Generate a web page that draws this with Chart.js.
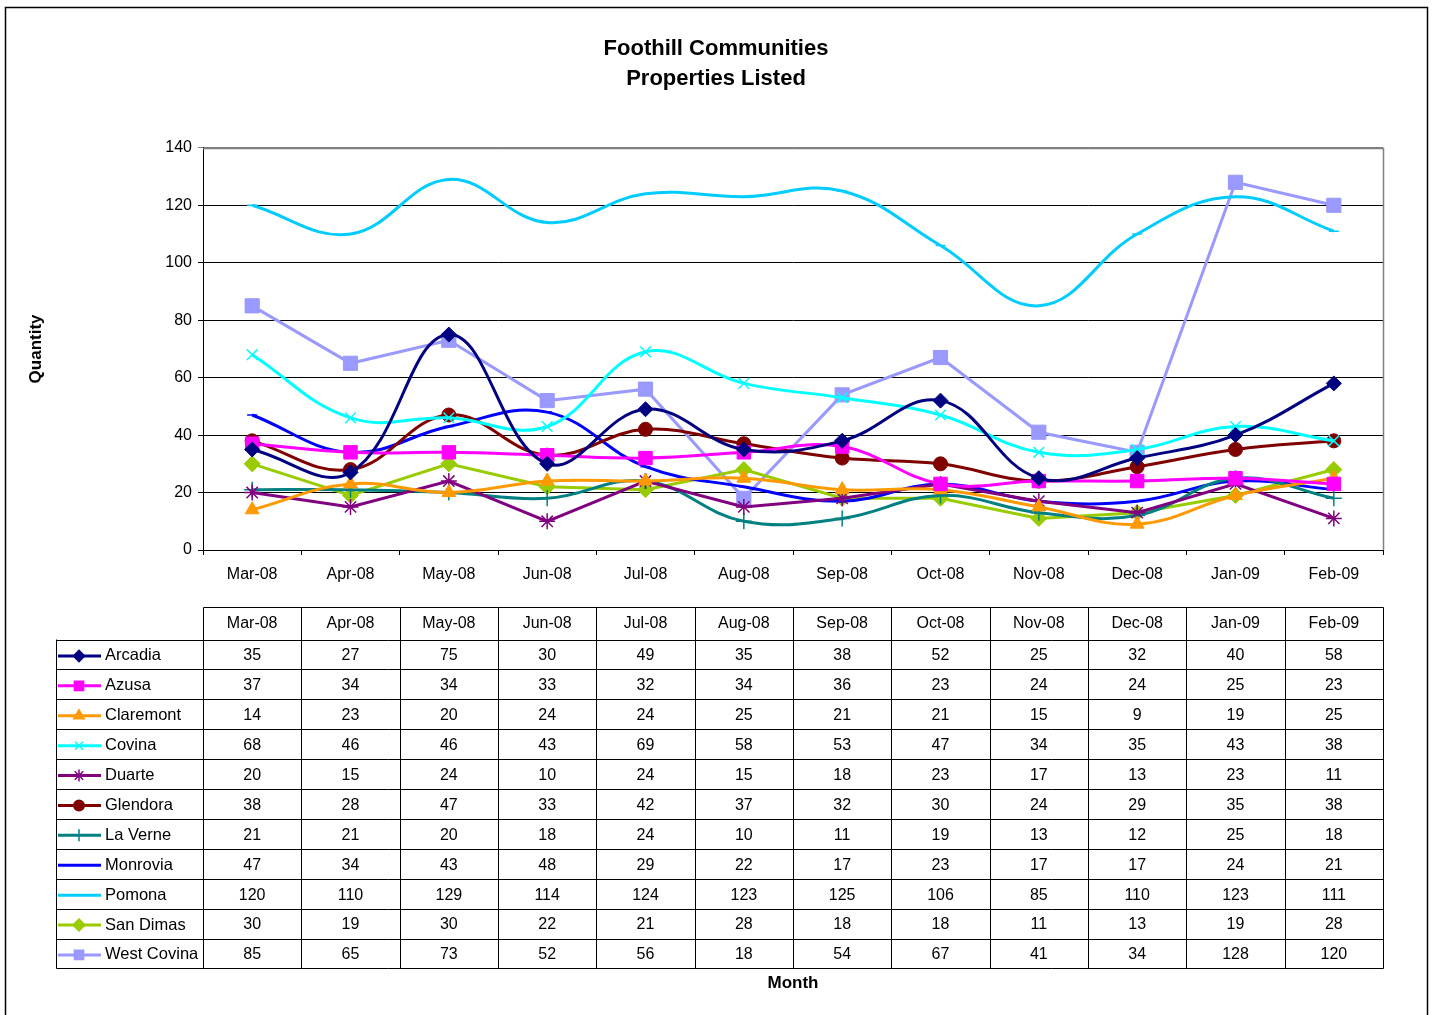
<!DOCTYPE html>
<html>
<head>
<meta charset="utf-8">
<title>Foothill Communities - Properties Listed</title>
<script src="https://cdn.jsdelivr.net/npm/chart.js@4.4.1/dist/chart.umd.min.js"></script>
<style>
  html, body { margin: 0; padding: 0; background: #fff; }
  #wrap { width: 1432px; height: 1015px; position: relative; }
</style>
</head>
<body>
<div id="wrap"><canvas id="listedChart"></canvas></div>
<script>
const months = ["Mar-08", "Apr-08", "May-08", "Jun-08", "Jul-08", "Aug-08", "Sep-08", "Oct-08", "Nov-08", "Dec-08", "Jan-09", "Feb-09"];
const yTicks = [0, 20, 40, 60, 80, 100, 120, 140];

const arcadia = [35, 27, 75, 30, 49, 35, 38, 52, 25, 32, 40, 58];
const azusa = [37, 34, 34, 33, 32, 34, 36, 23, 24, 24, 25, 23];
const claremont = [14, 23, 20, 24, 24, 25, 21, 21, 15, 9, 19, 25];
const covina = [68, 46, 46, 43, 69, 58, 53, 47, 34, 35, 43, 38];
const duarte = [20, 15, 24, 10, 24, 15, 18, 23, 17, 13, 23, 11];
const glendora = [38, 28, 47, 33, 42, 37, 32, 30, 24, 29, 35, 38];
const laVerne = [21, 21, 20, 18, 24, 10, 11, 19, 13, 12, 25, 18];
const monrovia = [47, 34, 43, 48, 29, 22, 17, 23, 17, 17, 24, 21];
const pomona = [120, 110, 129, 114, 124, 123, 125, 106, 85, 110, 123, 111];
const sanDimas = [30, 19, 30, 22, 21, 28, 18, 18, 11, 13, 19, 28];
const westCovina = [85, 65, 73, 52, 56, 18, 54, 67, 41, 34, 128, 120];

const FONT = "'Liberation Sans', Arial, sans-serif";

// name, data, colour, marker, marker radius, smoothing
const series = [
  ["Arcadia", arcadia, "#000080", "rectRot", 7.5, 0.4],
  ["Azusa", azusa, "#FF00FF", "rect", 9.5, 0.4],
  ["Claremont", claremont, "#FF9900", "triangle", 8, 0.4],
  ["Covina", covina, "#00FFFF", "crossRot", 7.5, 0.4],
  ["Duarte", duarte, "#800080", "star", 8, 0],
  ["Glendora", glendora, "#800000", "circle", 7, 0.4],
  ["La Verne", laVerne, "#008080", "cross", 8, 0.4],
  ["Monrovia", monrovia, "#0000FF", "line", 5, 0.4],
  ["Pomona", pomona, "#00CCFF", "line", 5, 0.4],
  ["San Dimas", sanDimas, "#99CC00", "rectRot", 8, 0],
  ["West Covina", westCovina, "#9999FF", "rect", 10, 0]
];

const datasets = series.map(([name, data, color, style, r, tension]) => ({
  label: name,
  data: data,
  borderColor: color,
  backgroundColor: color,
  borderWidth: 3,
  pointStyle: style,
  pointRadius: r,
  pointBorderWidth: (style === "cross" || style === "crossRot" || style === "star" || style === "line") ? 1.5 : 1,
  pointBackgroundColor: color,
  pointBorderColor: color,
  tension: tension,
  fill: false
}));

// white page + outer frame + plot border
const frame = {
  id: "frame",
  beforeDraw(chart) {
    const ctx = chart.ctx;
    ctx.save();
    ctx.fillStyle = "#fff";
    ctx.fillRect(0, 0, chart.width, chart.height);
    ctx.strokeStyle = "#000";
    ctx.lineWidth = 1.5;
    ctx.strokeRect(5.5, 7.5, 1422, 1020);
    ctx.restore();
  },
  beforeDatasetsDraw(chart) {
    const { left, right, top, bottom } = chart.chartArea;
    const ctx = chart.ctx;
    ctx.save();
    ctx.strokeStyle = "#808080";
    ctx.lineWidth = 1.5;
    ctx.beginPath();
    ctx.moveTo(left, Math.round(top) + 0.5);
    ctx.lineTo(Math.round(right) + 0.5, Math.round(top) + 0.5);
    ctx.lineTo(Math.round(right) + 0.5, bottom);
    ctx.stroke();
    ctx.restore();
  }
};

// data table under the plot, columns follow the x scale
const dataTable = {
  id: "dataTable",
  afterDraw(chart) {
    const ctx = chart.ctx;
    const xs = chart.scales.x;
    const area = chart.chartArea;
    const colW = (area.right - area.left) / months.length;
    const headTop = 607.5;
    const headH = 32;
    const rowH = 29.9;
    const labelLeft = 56.5;
    const left = Math.round(area.left) + 0.5;
    const right = Math.round(area.right) + 0.5;
    const firstRow = headTop + headH;
    const bottom = Math.round(firstRow + rowH * series.length) + 0.5;

    ctx.save();
    ctx.strokeStyle = "#000";
    ctx.lineWidth = 1;
    ctx.beginPath();
    ctx.moveTo(left, headTop);
    ctx.lineTo(right, headTop);
    for (let i = 0; i <= series.length; i++) {
      const y = Math.round(firstRow + rowH * i) + 0.5;
      ctx.moveTo(labelLeft, y);
      ctx.lineTo(right, y);
    }
    for (let i = 0; i <= months.length; i++) {
      const x = Math.round(area.left + colW * i) + 0.5;
      ctx.moveTo(x, headTop);
      ctx.lineTo(x, bottom);
    }
    ctx.moveTo(labelLeft, firstRow);
    ctx.lineTo(labelLeft, bottom);
    ctx.stroke();

    ctx.fillStyle = "#000";
    ctx.font = "16px " + FONT;
    ctx.textBaseline = "middle";
    ctx.textAlign = "center";
    months.forEach((m, i) => {
      ctx.fillText(m, xs.getPixelForValue(i), headTop + headH / 2);
    });

    series.forEach(([name, data, color, style, r], k) => {
      const cy = firstRow + rowH * k + rowH / 2 + 1.5;
      // legend key
      ctx.strokeStyle = color;
      ctx.lineWidth = 3;
      ctx.beginPath();
      ctx.moveTo(58, cy);
      ctx.lineTo(101, cy);
      ctx.stroke();
      ctx.fillStyle = color;
      ctx.strokeStyle = color;
      ctx.lineWidth = 1.5;
      Chart.helpers.drawPoint(ctx, { pointStyle: style, radius: Math.min(r * 0.75, 6.5), rotation: 0, borderWidth: 1.5 }, 79, cy);
      ctx.fillStyle = "#000";
      ctx.font = "16.5px " + FONT;
      ctx.textAlign = "left";
      ctx.fillText(name, 105, cy);
      ctx.font = "16px " + FONT;
      ctx.textAlign = "center";
      data.forEach((v, i) => {
        ctx.fillText(String(v), xs.getPixelForValue(i), cy);
      });
    });
    ctx.restore();
  }
};

new Chart(document.getElementById("listedChart"), {
  type: "line",
  data: { labels: months, datasets: datasets },
  plugins: [frame, dataTable],
  options: {
    responsive: true,
    maintainAspectRatio: false,
    animation: false,
    layout: { padding: 0 },
    plugins: {
      legend: { display: false },
      tooltip: { enabled: false },
      title: {
        display: true,
        text: ["Foothill Communities", "Properties Listed"],
        color: "#000",
        font: { family: FONT, size: 22, weight: "bold", lineHeight: 1.36 },
        padding: { top: 34, bottom: 54 }
      }
    },
    scales: {
      x: {
        offset: true,
        grid: { offset: true, drawOnChartArea: false, drawTicks: true, tickLength: 5, color: "#000" },
        border: { color: "#000", width: 1 },
        ticks: { color: "#000", font: { family: FONT, size: 16 }, padding: 10, maxRotation: 0, autoSkip: false },
        title: {
          display: true,
          text: "Month",
          color: "#000",
          font: { family: FONT, size: 17, weight: "bold", lineHeight: 1.2 },
          padding: { top: 0, bottom: 21 }
        },
        afterFit(scale) { scale.height = 465; }
      },
      y: {
        min: 0,
        max: 140,
        afterBuildTicks(scale) { scale.ticks = yTicks.map(v => ({ value: v })); },
        grid: {
          color: (c) => (c.tick && c.tick.value === 140 ? "#808080" : "#000"),
          lineWidth: 1,
          tickLength: 5,
          drawTicks: true
        },
        border: { color: "#000", width: 1 },
        ticks: { color: "#000", font: { family: FONT, size: 16 }, padding: 6 },
        title: {
          display: true,
          text: "Quantity",
          color: "#000",
          font: { family: FONT, size: 17, weight: "bold", lineHeight: 1.2 },
          padding: { top: 26 }
        },
        afterFit(scale) { scale.width = 203; }
      },
      // empty right-hand spacer so the plot ends where the table ends
      spacer: {
        position: "right",
        display: true,
        grid: { display: false, drawOnChartArea: false },
        border: { display: false },
        ticks: { display: false },
        afterFit(scale) { scale.width = 49; }
      }
    }
  }
});
</script>
</body>
</html>
